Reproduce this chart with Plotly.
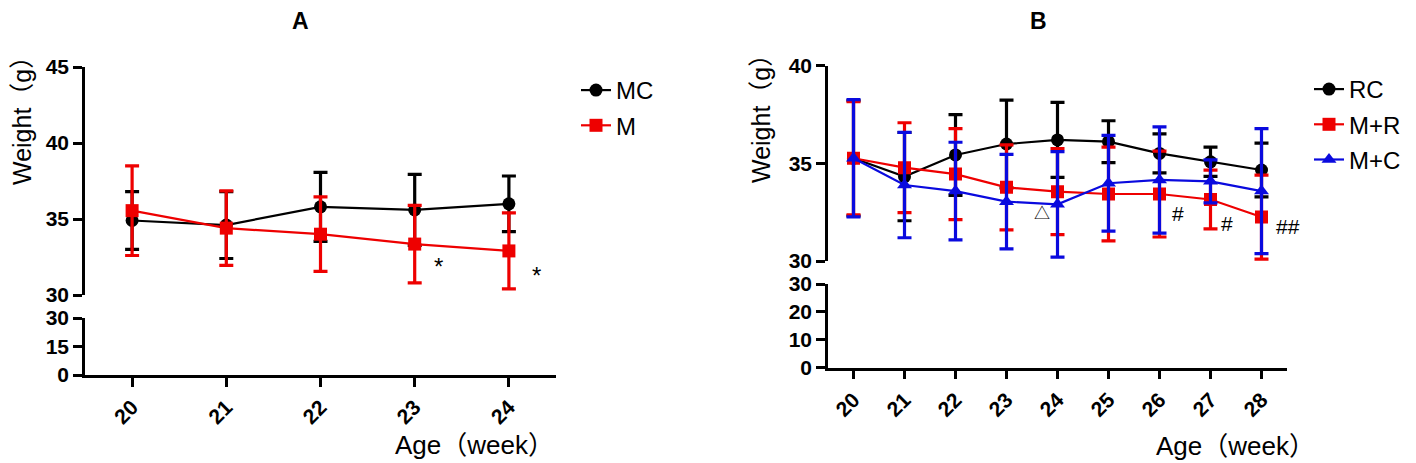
import plotly.graph_objects as go

W, H = 1416, 463

# ---------------- data ----------------
weeks_a = [20, 21, 22, 23, 24]
mc_mean = [34.9, 34.6, 35.8, 35.6, 36.0]
mc_sd = [1.9, 2.2, 2.27, 2.33, 1.83]
m_mean = [35.55, 34.4, 34.0, 33.35, 32.9]
m_sd = [2.95, 2.45, 2.45, 2.55, 2.5]

weeks_b = [20, 21, 22, 23, 24, 25, 26, 27, 28]
rc_mean = [35.26, 34.32, 35.43, 35.99, 36.2, 36.11, 35.51, 35.08, 34.66]
rc_sd = [2.95, 2.26, 2.07, 2.25, 1.92, 1.07, 1.0, 0.75, 1.38]
mr_mean = [35.26, 34.78, 34.45, 33.77, 33.55, 33.43, 33.43, 33.15, 32.25]
mr_sd = [2.9, 2.3, 2.33, 2.18, 2.2, 2.4, 2.2, 1.5, 2.15]
mcb_mean = [35.26, 33.89, 33.58, 33.04, 32.9, 33.98, 34.15, 34.08, 33.58]
mcb_sd = [3.0, 2.7, 2.5, 2.42, 2.7, 2.45, 2.72, 1.1, 3.2]

ticks_a_upper = [30, 35, 40, 45]
ticks_a_lower = [0, 15, 30]
ticks_b_upper = [30, 35, 40]
ticks_b_lower = [0, 10, 20, 30]

marks_a = [("*", 23.25, 31.9), ("*", 24.29, 31.3)]
marks_b = [("△", 23.7, 32.45), ("#", 26.37, 32.45), ("#", 27.33, 31.9), ("##", 28.3, 31.75)]

BLACK = "#000000"
RED = "#ee0000"
BLUE = "#0a0ade"

TICKFONT = dict(family="Liberation Sans, Arial", size=21, color="black", weight="bold")
TXT = "Liberation Sans, Arial, Noto Sans CJK SC"


def px(x):
    return x / W


def py(y):
    return (H - y) / H


fig = go.Figure()


def add_series(x, y, sd, name, color, symbol, xa, ya, legend):
    fig.add_trace(go.Scatter(
        x=x, y=y, name=name, mode="lines+markers",
        xaxis=xa, yaxis=ya, legend=legend, legendgroup=name,
        line=dict(color=color, width=2.2),
        marker=dict(symbol=symbol, size=13, color=color),
        error_y=dict(type="data", array=sd, visible=True, color=color, thickness=3.2, width=7),
    ))


# invisible anchor traces so that the lower (broken) axes are drawn
for xa, ya, xs in [("x", "y", weeks_a), ("x3", "y3", weeks_b)]:
    fig.add_trace(go.Scatter(x=xs, y=[None] * len(xs), xaxis=xa, yaxis=ya, mode="markers",
                             showlegend=False, hoverinfo="skip"))

add_series(weeks_a, mc_mean, mc_sd, "MC", BLACK, "circle", "x2", "y2", "legend")
add_series(weeks_a, m_mean, m_sd, "M", RED, "square", "x2", "y2", "legend")
add_series(weeks_b, rc_mean, rc_sd, "RC", BLACK, "circle", "x4", "y4", "legend2")
add_series(weeks_b, mr_mean, mr_sd, "M+R", RED, "square", "x4", "y4", "legend2")
add_series(weeks_b, mcb_mean, mcb_sd, "M+C", BLUE, "triangle-up", "x4", "y4", "legend2")

axis_common = dict(showline=True, linecolor="black", linewidth=2.5, ticks="outside",
                   ticklen=9, tickwidth=2.5, tickcolor="black", showgrid=False,
                   zeroline=False, tickfont=TICKFONT, automargin=False)

# Panel A
dom_a = [px(85), px(556)]
fig.update_layout(
    xaxis=dict(domain=dom_a, anchor="y", range=[19.5, 24.5], tickvals=weeks_a,
               tickangle=-45, **axis_common),
    yaxis=dict(domain=[py(375), py(318)], anchor="x", range=[0, 30], tickvals=ticks_a_lower, **axis_common),
    xaxis2=dict(domain=dom_a, anchor="y2", visible=False, range=[19.5, 24.5]),
    yaxis2=dict(domain=[py(295), py(67)], anchor="x2", range=[30, 45], tickvals=ticks_a_upper, **axis_common),
)
# Panel B
dom_b = [px(828), px(1287)]
fig.update_layout(
    xaxis3=dict(domain=dom_b, anchor="y3", range=[19.5, 28.5], tickvals=weeks_b,
                tickangle=-45, **axis_common),
    yaxis3=dict(domain=[py(367.7), py(284)], anchor="x3", range=[0, 30], tickvals=ticks_b_lower, **axis_common),
    xaxis4=dict(domain=dom_b, anchor="y4", visible=False, range=[19.5, 28.5]),
    yaxis4=dict(domain=[py(261), py(65.7)], anchor="x4", range=[30, 40], tickvals=ticks_b_upper, **axis_common),
)

ann = []
for t, x, y in marks_a:
    ann.append(dict(text=t, x=x, y=y, xref="x2", yref="y2", showarrow=False,
                    xanchor="center", yanchor="middle",
                    font=dict(family=TXT, size=24, color="black")))
for t, x, y in marks_b:
    ann.append(dict(text=t, x=x, y=y, xref="x4", yref="y4", showarrow=False,
                    xanchor="center", yanchor="middle", xshift=11 if t == "##" else 0,
                    font=dict(family=TXT, size=21 if t != "△" else 16, color="black")))

# titles
ann.append(dict(text="<b>A</b>", x=px(300), y=py(21), xref="paper", yref="paper", showarrow=False,
                xanchor="center", yanchor="middle", font=dict(family=TXT, size=23, color="black")))
ann.append(dict(text="<b>B</b>", x=px(1038), y=py(21), xref="paper", yref="paper", showarrow=False,
                xanchor="center", yanchor="middle", font=dict(family=TXT, size=23, color="black")))
# axis titles
for xc, yc in [(22, 115), (761, 113)]:
    ann.append(dict(text="Weight（g）", x=px(xc), y=py(yc), xref="paper", yref="paper", showarrow=False,
                    xanchor="center", yanchor="middle",
                    textangle=-90, font=dict(family=TXT, size=25, color="black")))
for xc, yc in [(475, 445), (1235, 446)]:
    ann.append(dict(text="Age（week）", x=px(xc), y=py(yc), xref="paper", yref="paper", showarrow=False,
                    xanchor="center", yanchor="middle",
                    font=dict(family=TXT, size=26, color="black")))

legend_common = dict(font=dict(family=TXT, size=24, color="black"), bgcolor="rgba(0,0,0,0)",
                     traceorder="grouped", tracegroupgap=1, itemwidth=30, xanchor="left", yanchor="top")

fig.update_layout(
    width=W, height=H, margin=dict(l=0, r=0, t=0, b=0, autoexpand=False),
    paper_bgcolor="white", plot_bgcolor="white",
    showlegend=True,
    legend=dict(x=px(576), y=py(68), **legend_common),
    legend2=dict(x=px(1309), y=py(67), **legend_common),
    annotations=ann,
)

fig.write_html("out.html", config={"displayModeBar": False},
               post_script="document.body.style.margin='0';")
